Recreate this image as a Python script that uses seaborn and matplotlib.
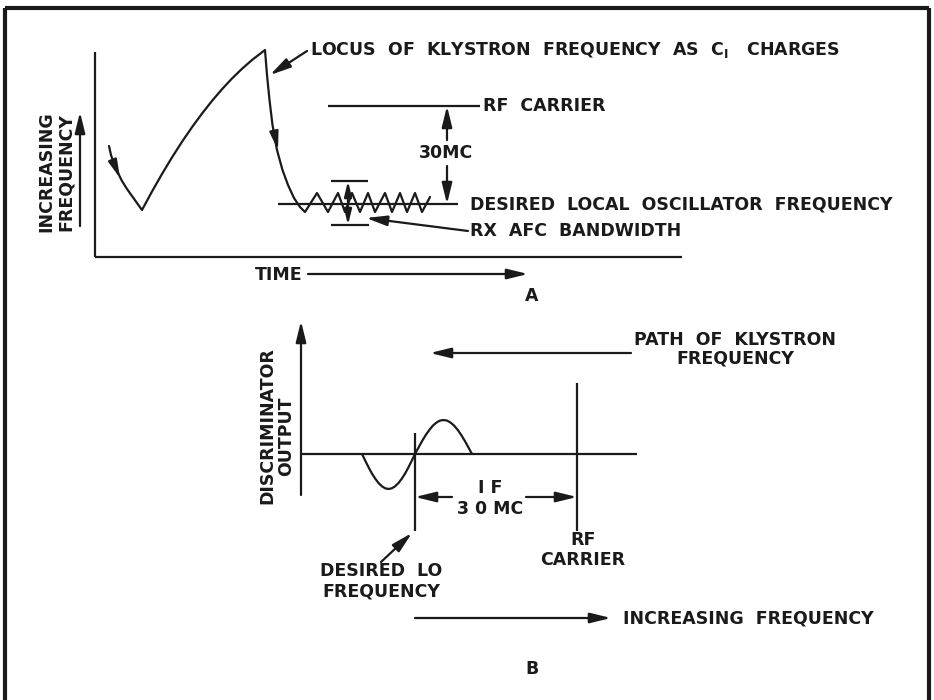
import numpy as np
import pandas as pd
import seaborn as sns
import matplotlib
matplotlib.use("Agg")
import matplotlib.pyplot as plt

# ---------------- data (diagram coordinates, pixel space) ----------------
# Panel A: locus of klystron frequency vs time
locus_t = [109, 111, 114, 118, 122, 127, 132, 137, 142,
           152, 162, 172, 182, 192, 202, 212, 222, 232, 242, 252, 265,
           267, 269.5, 272.5, 277, 282.5, 288, 294, 300, 305,
           317, 328, 338, 345, 352, 360, 368, 375, 385, 392, 400, 407, 415, 422, 430]
locus_f = [146, 155, 164, 173, 181, 189, 196, 203, 210,
           191.5, 174.0, 157.4, 141.8, 127.2, 113.6, 100.9, 89.2, 78.5, 68.8, 60.0, 50.0,
           75, 100, 125, 150, 170, 185, 198, 207, 212,
           193, 212, 193, 212, 193, 212, 193, 212, 193, 212, 193, 212, 193, 212, 197]

# Panel B: discriminator S-curve
disc_f = [362.0, 365.3, 368.6, 371.9, 375.3, 378.6, 381.9, 385.2, 388.5,
          391.8, 395.1, 398.4, 401.8, 405.1, 408.4, 411.7, 415.0,
          418.6, 422.1, 425.7, 429.3, 432.8, 436.4, 439.9, 443.5,
          447.1, 450.6, 454.2, 457.8, 461.3, 464.9, 468.4, 472.0]
disc_v = [454.0, 460.8, 467.4, 473.5, 478.7, 483.1, 486.3, 488.3, 489.0,
          488.3, 486.3, 483.1, 478.7, 473.5, 467.4, 460.8, 454.0,
          447.4, 441.0, 435.1, 430.0, 425.7, 422.6, 420.6, 420.0,
          420.6, 422.6, 425.7, 430.0, 435.1, 441.0, 447.4, 454.0]

# text labels
lbl_locus = r"LOCUS  OF  KLYSTRON  FREQUENCY  AS  C$_\mathregular{I}$   CHARGES"
lbl_rf = "RF  CARRIER"
lbl_30 = "30MC"
lbl_lo = "DESIRED  LOCAL  OSCILLATOR  FREQUENCY"
lbl_afc = "RX  AFC  BANDWIDTH"
lbl_time = "TIME"
lbl_ya = "INCREASING\nFREQUENCY"
lbl_path = "PATH  OF  KLYSTRON\nFREQUENCY"
lbl_disc1 = "DISCRIMINATOR"
lbl_disc2 = "OUTPUT"
lbl_if = "I F"
lbl_if30 = "3 0 MC"
lbl_rf2 = "RF\nCARRIER"
lbl_lo2 = "DESIRED  LO\nFREQUENCY"
lbl_incf = "INCREASING  FREQUENCY"

# ---------------- drawing ----------------
sns.set_theme(style="white")
plt.rcParams['font.family'] = ['DejaVu Sans']
plt.rcParams['mathtext.default'] = 'bf'

fig = plt.figure(figsize=(9.34, 7.0), dpi=100)
ax = fig.add_axes([0, 0, 1, 1])
ax.set_xlim(0, 934)
ax.set_ylim(700, 0)
ax.axis("off")

K = "#1a1a1a"
LW = 1.6
FS = 12.5

def line(xs, ys, lw=LW):
    ax.plot(xs, ys, color=K, lw=lw, solid_capstyle="butt")

def arrow(x0, y0, x1, y1, hl=0.9, hw=0.22, ms=14, lw=LW):
    ax.annotate("", xy=(x1, y1), xytext=(x0, y0),
                arrowprops=dict(arrowstyle=f"-|>,head_length={hl},head_width={hw}",
                                color=K, lw=lw, mutation_scale=ms,
                                shrinkA=0, shrinkB=0))

def txt(x, y, s, ha="left", va="center", rot=0, fs=FS, ls=1.2):
    ax.text(x, y, s, ha=ha, va=va, rotation=rot, fontsize=fs, color=K,
            linespacing=ls, fontweight="bold")

# border (open at bottom)
line([5, 5], [700, 8], lw=3)
line([5, 929], [8, 8], lw=3)
line([929, 929], [8, 700], lw=3)

# ---- Panel A ----
line([95, 95], [52, 257])
line([95, 682], [257, 257])
sns.lineplot(x=locus_t, y=locus_f, sort=False, estimator=None, ax=ax,
             color=K, lw=LW)
# direction arrowheads along curve
arrow(115, 166, 120, 178, ms=12)
arrow(275, 136, 278, 150, ms=12)

line([278, 458], [204, 204])
line([328, 480], [106, 106])
arrow(447, 140, 447, 106)
arrow(447, 166, 447, 204)
txt(446, 153, lbl_30, ha="center")

# bandwidth bracket
line([331, 368], [181, 181])
line([331, 369], [225, 225])
arrow(348, 203, 348, 181, ms=10)
arrow(348, 203, 348, 225, ms=10)

arrow(468, 231, 366, 218)
arrow(307, 51, 270, 75)

txt(310, 50, lbl_locus)
txt(483, 106, lbl_rf)
txt(470, 204, lbl_lo)
txt(470, 231, lbl_afc)

txt(56, 172, lbl_ya, ha="center", rot=90, ls=1.15)
arrow(80, 226, 80, 112)

txt(255, 275, lbl_time)
arrow(308, 274, 528, 274)
txt(532, 296, "A", ha="center")

# ---- Panel B ----
arrow(301, 495, 301, 321)
line([302, 637], [454, 454])
sns.lineplot(x=disc_f, y=disc_v, sort=False, estimator=None, ax=ax,
             color=K, lw=LW)
line([415, 415], [433, 531])
line([577, 577], [383, 531])
arrow(452, 497, 415, 497)
arrow(526, 497, 577, 497)
txt(490, 488, lbl_if, ha="center")
txt(490, 509, lbl_if30, ha="center")
arrow(381, 562, 412, 533)
txt(381, 581, lbl_lo2, ha="center", ls=1.15)
txt(583, 550, lbl_rf2, ha="center", ls=1.15)

txt(267, 426, lbl_disc1, ha="center", rot=90)
txt(286, 436, lbl_disc2, ha="center", rot=90)

arrow(631, 353, 430, 353)
txt(735, 349, lbl_path, ha="center", ls=1.0)

arrow(415, 618, 611, 618)
txt(623, 618, lbl_incf)
txt(532, 669, "B", ha="center")

fig.savefig("out.png", dpi=100, facecolor="white")
